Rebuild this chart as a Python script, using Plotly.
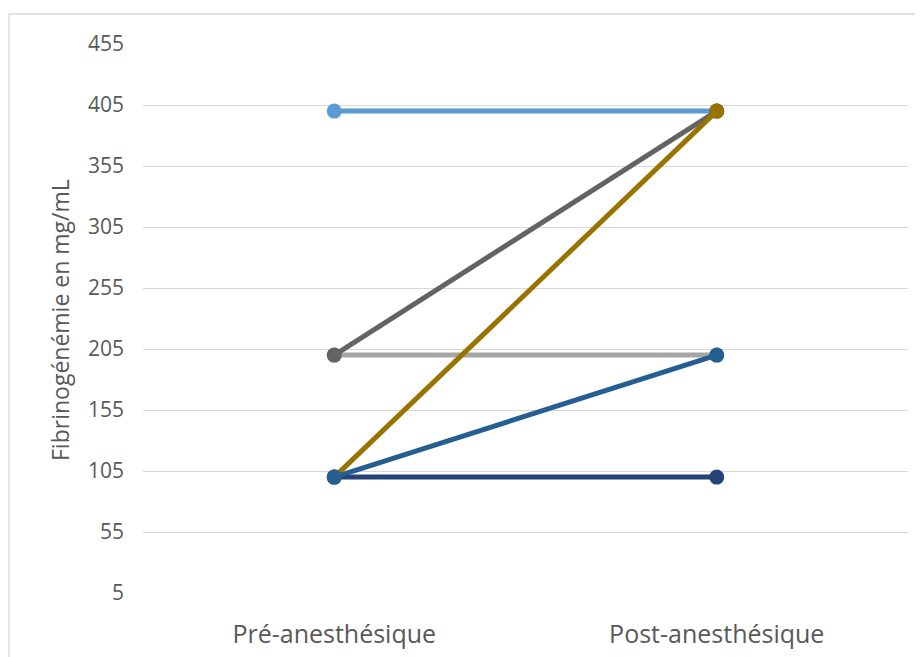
import plotly.graph_objects as go

categories = ["Pré-anesthésique", "Post-anesthésique"]
series_names = ["Patient 1", "Patient 2", "Patient 3", "Patient 4", "Patient 5", "Patient 6"]
series_values = [
    [400, 400],
    [200, 200],
    [100, 100],
    [200, 400],
    [100, 400],
    [100, 200],
]
series_colors = ["#5B9BD5", "#A5A5A5", "#264478", "#636363", "#997300", "#255E91"]
y_ticks = [5, 55, 105, 155, 205, 255, 305, 355, 405, 455]
y_title = "Fibrinogénémie en mg/mL"

# page has an 8px body margin; figure sized/placed to compensate
W, H = 915, 649
L, R, T, B = 135, 15, 36, 64
pw, ph = W - L - R, H - T - B

fig = go.Figure()
for name, vals, col in zip(series_names, series_values, series_colors):
    fig.add_trace(go.Scatter(
        x=categories, y=vals, name=name, mode="lines+markers",
        line=dict(color=col, width=5),
        marker=dict(color=col, size=15),
    ))

font = "Open Sans, DejaVu Sans, sans-serif"
fig.update_layout(
    width=W, height=H,
    margin=dict(l=L, r=R, t=T, b=B),
    paper_bgcolor="white", plot_bgcolor="white",
    showlegend=False,
    font=dict(family=font, color="#595959", size=21),
    xaxis=dict(type="category", range=[-0.5, 1.5], showgrid=False, zeroline=False,
               showline=False, ticks="", ticklabelstandoff=24, automargin=False,
               tickfont=dict(size=25, color="#595959")),
    yaxis=dict(range=[5, 455], tickvals=y_ticks, showgrid=True, gridcolor="#D9D9D9",
               gridwidth=1.3, zeroline=False, showline=False, ticks="", automargin=False,
               ticklabelstandoff=18, tickfont=dict(size=21, color="#595959")),
    annotations=[dict(
        text=y_title, textangle=-90, xref="paper", yref="paper",
        x=(52 - L) / pw, y=(H - B - 312) / ph, xanchor="center", yanchor="middle",
        showarrow=False, font=dict(size=23, color="#595959", family=font),
    )],
    shapes=[dict(
        type="rect", xref="paper", yref="paper",
        x0=(1 - L) / pw, x1=(940 - L) / pw,
        y0=(H - B - 6) / ph, y1=(H - B - 680) / ph,
        line=dict(color="#D9D9D9", width=1.3), fillcolor="rgba(0,0,0,0)", layer="below",
    )],
)

fig.write_html("out.html")
